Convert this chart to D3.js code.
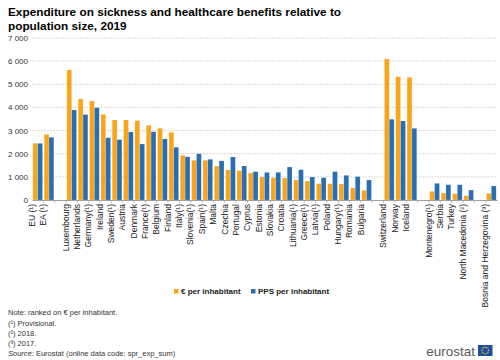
<!DOCTYPE html>
<html><head><meta charset="utf-8">
<script src="https://cdn.jsdelivr.net/npm/d3@7"></script>
<style>body{margin:0;background:#fff}svg{display:block;font-family:"Liberation Sans",Arial,sans-serif}</style>
</head><body><svg id="c" width="500" height="360"></svg>
<script>
const categories = ["EU (¹)","EA (¹)","","Luxembourg","Netherlands","Germany(¹)","Ireland","Sweden(¹)","Austria","Denmark","France(¹)","Belgium","Finland","Italy(¹)","Slovenia(¹)","Spain(¹)","Malta","Czechia","Portugal","Cyprus","Estonia","Slovakia","Croatia","Lithuania(¹)","Greece(¹)","Latvia(¹)","Poland","Hungary(¹)","Romania","Bulgaria","","Switzerland","Norway","Iceland","","Montenegro(¹)","Serbia","Turkey","North Macedonia (²)","","Bosnia and Herzegovina (³)"];
const euroValues = [2450,2840,null,5620,4366,4280,3700,3460,3460,3430,3230,3100,2925,1930,1715,1715,1470,1300,1270,1170,995,965,950,865,820,705,705,690,520,420,null,6095,5330,5300,null,375,300,275,190,null,290];
const ppsValues  = [2450,2710,null,3890,3690,3990,2690,2610,2940,2420,2950,2640,2280,1870,2000,1760,1690,1860,1470,1225,1195,1195,1425,1310,995,965,1225,1065,1010,865,null,3490,3415,3100,null,720,660,660,430,null,605];
const seriesNames = ["€ per inhabitant","PPS per inhabitant"];
const yTicks = [0,1000,2000,3000,4000,5000,6000,7000];
const colors = ["#FAA519","#286EB4"];

const svg = d3.select("#c");
const slots = categories.map((c,i)=>({key:i, label:c, v:[euroValues[i], ppsValues[i]]}));
const x = d3.scaleBand().domain(slots.map(d=>d.key)).range([32,497]).paddingInner(0).paddingOuter(0);
const xi = d3.scaleBand().domain([0,1]).range([0,x.bandwidth()]).paddingOuter(0.17).paddingInner(0);
const y = d3.scaleLinear().domain([0,7000]).range([200,38]);
const fmt = v => d3.format(",")(v).replace(/,/g," ");

// title
svg.append("text").attr("x",8).attr("y",16).attr("font-size",11.8).attr("font-weight","bold").attr("fill","#000")
  .text("Expenditure on sickness and healthcare benefits relative to");
svg.append("text").attr("x",8).attr("y",30).attr("font-size",11.8).attr("font-weight","bold").attr("fill","#000")
  .text("population size, 2019");

// grid
svg.append("g").selectAll("line").data(yTicks.filter(t=>t>0)).join("line")
  .attr("x1",32).attr("x2",497).attr("y1",d=>y(d)).attr("y2",d=>y(d))
  .attr("stroke","#cfcfcf").attr("stroke-width",0.8).attr("stroke-dasharray","2,1");

// y axis labels
const ya = svg.append("g").attr("transform","translate(28,0)")
  .call(d3.axisLeft(y).tickValues(yTicks).tickFormat(fmt).tickSize(0).tickPadding(0));
ya.select(".domain").remove();
ya.selectAll("text").attr("font-size",8).attr("fill","#333").attr("font-family","'Liberation Sans',Arial,sans-serif");

// bars
const g = svg.append("g");
slots.forEach(s=>{
  s.v.forEach((v,j)=>{
    if(v==null) return;
    g.append("rect").attr("x",x(s.key)+xi(j)).attr("width",xi.bandwidth())
      .attr("y",y(v)).attr("height",y(0)-y(v)).attr("fill",colors[j])
      .attr("stroke","#fff").attr("stroke-opacity",0.35).attr("stroke-width",0.5);
  });
});

// x axis
const xa = svg.append("g").attr("transform","translate(0,200)")
  .call(d3.axisBottom(x).tickSize(0).tickFormat(k=>categories[k]));
xa.select(".domain").attr("stroke","#888").attr("stroke-width",0.8);
xa.selectAll("text").attr("font-size",8.5).attr("fill","#222")
  .attr("font-family","'Liberation Sans',Arial,sans-serif")
  .attr("transform","rotate(-90)").attr("text-anchor","end").attr("dx","-4").attr("dy","-0.35em").attr("x",0).attr("y",0);
// small tick separators
svg.append("g").selectAll("line").data(slots.slice(1)).join("line")
  .attr("x1",d=>x(d.key)).attr("x2",d=>x(d.key)).attr("y1",200).attr("y2",203).attr("stroke","#999").attr("stroke-width",0.6);

// legend
const lg = svg.append("g").attr("transform","translate(0,292)");
const legX = [174, 251];
seriesNames.forEach((n,i)=>{
  lg.append("rect").attr("x",legX[i]).attr("y",-3).attr("width",4.5).attr("height",4.5).attr("fill",colors[i]);
  lg.append("text").attr("x",legX[i]+7).attr("y",1.5).attr("font-size",8).attr("font-weight","bold").attr("fill","#222").text(n);
});

// notes
const notes = ["Note: ranked on € per inhabitant.","(¹) Provisional.","(²) 2018.","(³) 2017."];
const ny = [315,325.5,335.5,345.5];
notes.forEach((t,i)=>svg.append("text").attr("x",8).attr("y",ny[i]).attr("font-size",7.5).attr("fill","#333").text(t));
const src = svg.append("text").attr("x",8).attr("y",356).attr("font-size",7.5).attr("fill","#333");
src.append("tspan").attr("font-style","italic").text("Source:");
src.append("tspan").text(" Eurostat (online data code: spr_exp_sum)");

// logo
svg.append("text").attr("x",475).attr("y",356).attr("text-anchor","end").attr("font-size",13.5).attr("fill","#5a5a5a").text("eurostat");
svg.append("rect").attr("x",478).attr("y",345).attr("width",14.5).attr("height",11).attr("fill","#1f4fa0");
const fc = [485.25, 350.5];
d3.range(12).forEach(k=>{
  const a = k*Math.PI/6;
  svg.append("circle").attr("cx",fc[0]+3.3*Math.cos(a)).attr("cy",fc[1]+3.3*Math.sin(a)).attr("r",0.6).attr("fill","#ffdd00");
});
</script></body></html>
